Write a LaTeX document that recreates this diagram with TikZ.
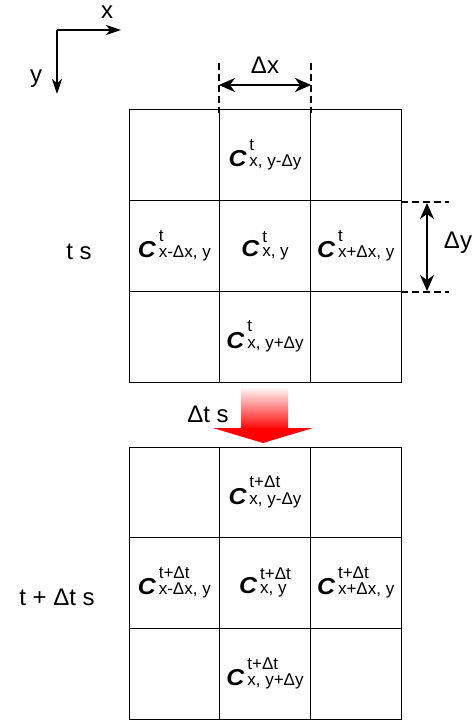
\documentclass[tikz,border=0pt]{standalone}
\usepackage{graphicx}
\usepackage{fontspec}
\setmainfont{Liberation Sans}
\usetikzlibrary{arrows.meta,positioning}
% C with stacked super- and subscript
\newcommand{\conc}[2]{\scalebox{1.08}[1]{\fontsize{23}{23}\selectfont\bfseries\itshape C}\hspace{3pt}%
  {\fontsize{17}{14.5}\selectfont\begin{tabular}[b]{@{}l@{}}#1\\#2\end{tabular}}}
\tikzset{
  cell/.style={draw,line width=1pt,minimum width=90.67pt,minimum height=90.67pt,inner sep=0pt},
  lbl/.style={font=\fontsize{24}{24}\selectfont,inner sep=0pt},
  axis/.style={line width=1.3pt,-{Stealth[length=15pt,width=10pt,inset=4pt]}},
  dimarrow/.style={line width=2pt,{Stealth[length=16pt,width=14pt,inset=5pt]}-{Stealth[length=16pt,width=14pt,inset=5pt]}},
  guide/.style={line width=1.6pt,dash pattern=on 7pt off 4pt}
}

\begin{document}
\begin{tikzpicture}[x=1pt,y=-1pt]
\useasboundingbox (0,0) rectangle (474,722);
%\draw[help lines,step=10] (0,0) grid (474,722);

% axes
\coordinate (o) at (57,30);
\coordinate (xend) at (121,30);
\coordinate (yend) at (57,94);
\draw[axis] (o) -- (xend);
\draw[axis] (o) -- (yend);
\node[lbl,anchor=base] (xlab) at (107,19) {x};
\node[lbl] (ylab) at (36,79) {y};

% top grid (t)
\foreach \r/\c/\txt in {1/1/{},1/2/{\conc{t}{x, y-Δy}},1/3/{},
    2/1/{\conc{t}{x-Δx, y}},2/2/{\conc{t}{x, y}},2/3/{\conc{t}{x+Δx, y}},
    3/1/{},3/2/{\conc{t}{x, y+Δy}},3/3/{}}
  \node[cell] (a\r\c) at ({129+(\c-0.5)*90.67},{110+(\r-0.5)*90.67}) {\txt};

% bottom grid (t + dt)
\foreach \r/\c/\txt in {1/1/{},1/2/{\conc{t+Δt}{x, y-Δy}},1/3/{},
    2/1/{\conc{t+Δt}{x-Δx, y}},2/2/{\conc{t+Δt}{x, y}},2/3/{\conc{t+Δt}{x+Δx, y}},
    3/1/{},3/2/{\conc{t+Δt}{x, y+Δy}},3/3/{}}
  \node[cell] (b\r\c) at ({129+(\c-0.5)*90.67},{447+(\r-0.5)*90.67}) {\txt};

\node[lbl] (tnow) at (79,252) {t s};
\node[lbl] (tnext) at (57,597) {t + Δt s};

% dx
\draw[guide] (219,63) -- (219,113);
\draw[guide] (311,63) -- (311,113);
\coordinate (dxl) at (219,85);
\coordinate (dxr) at (311,85);
\draw[dimarrow] (dxl) -- (dxr);
\node[lbl] (dxlab) at (265,65) {Δx};

% dy
\draw[guide] (401,202) -- (449,202);
\draw[guide] (401,292) -- (449,292);
\coordinate (dyt) at (427,203);
\coordinate (dyb) at (427,291);
\draw[dimarrow] (dyt) -- (dyb);
\node[lbl] (dylab) at (458,243) {Δy};

% time step arrow
\shade[top color=red!4,bottom color=red] (241,388) rectangle (288,430);
\fill[red] (213,428) -- (313,428) -- (263,443) -- cycle;
\node[lbl] (dtlab) at (208,414) {Δt s};
\end{tikzpicture}
\end{document}
